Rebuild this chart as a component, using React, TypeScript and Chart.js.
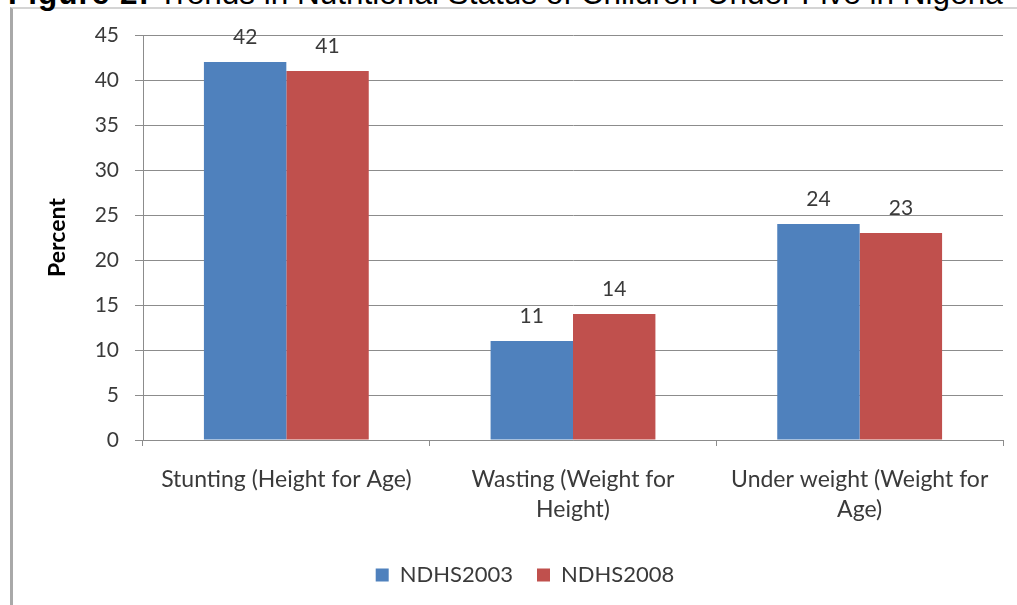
import React, { useEffect, useRef } from "react";
import { Chart, registerables } from "chart.js";

Chart.register(...registerables);

const categories: string[][] = [
  ["Stunting (Height for Age)"],
  ["Wasting (Weight for", "Height)"],
  ["Under weight (Weight for", "Age)"],
];
const ndhs2003: number[] = [42, 11, 24];
const ndhs2008: number[] = [41, 14, 23];
const yTicks = { min: 0, max: 45, step: 5 };

const BLUE = "#4F81BD";
const RED = "#C0504D";
const TEXT = "#3a3a3a";
const GRID = "#8c8c8c";
const FONT = "Lato, 'Open Sans', sans-serif";

// writes each bar's value just above it
const valueLabels = {
  id: "valueLabels",
  afterDatasetsDraw(chart: any) {
    const ctx = chart.ctx;
    ctx.save();
    ctx.font = `21px ${FONT}`;
    ctx.fillStyle = TEXT;
    ctx.textAlign = "center";
    ctx.textBaseline = "middle";
    chart.data.datasets.forEach((ds: any, i: number) => {
      const meta = chart.getDatasetMeta(i);
      meta.data.forEach((bar: any, j: number) => {
        ctx.fillText(String(ds.data[j]), bar.x, bar.y - 25);
      });
    });
    ctx.restore();
  },
};

// centres the legend under the plot area rather than the whole canvas
const legendUnderPlot = {
  id: "legendUnderPlot",
  afterLayout(chart: any) {
    const lg = chart.legend;
    if (!lg) return;
    const area = chart.chartArea;
    const shift = (area.left + area.right) / 2 - (lg.left + lg.right) / 2 - 48;
    lg.left += shift;
    lg.right += shift;
  },
};

export default function App() {
  const canvasRef = useRef<HTMLCanvasElement | null>(null);

  useEffect(() => {
    document.body.style.margin = "0";
    const canvas = canvasRef.current;
    if (!canvas) return;
    const chart = new Chart(canvas, {
      type: "bar",
      data: {
        labels: categories,
        datasets: [
          { label: "NDHS2003", data: ndhs2003, backgroundColor: BLUE, borderWidth: 0 },
          { label: "NDHS2008", data: ndhs2008, backgroundColor: RED, borderWidth: 0 },
        ],
      },
      options: {
        responsive: false,
        animation: false,
        devicePixelRatio: 1,
        layout: { padding: { left: 0, right: 14, top: 35, bottom: 9 } },
        datasets: { bar: { categoryPercentage: 0.575, barPercentage: 1 } },
        plugins: {
          tooltip: { enabled: false },
          title: { display: false },
          legend: {
            position: "bottom",
            labels: {
              boxWidth: 13,
              boxHeight: 13,
              padding: 24,
              color: TEXT,
              font: { family: FONT, size: 22 },
            },
          },
        },
        scales: {
          x: {
            grid: {
              drawOnChartArea: false,
              drawTicks: true,
              tickLength: 6,
              color: GRID,
              offset: true,
            },
            border: { color: GRID, width: 1 },
            ticks: {
              color: TEXT,
              padding: 19,
              maxRotation: 0,
              autoSkip: false,
              font: { family: FONT, size: 23, lineHeight: 1.3 },
            },
            afterFit(scale: any) {
              scale.height = 100;
            },
          },
          y: {
            min: yTicks.min,
            max: yTicks.max,
            ticks: {
              stepSize: yTicks.step,
              color: TEXT,
              padding: 16,
              font: { family: FONT, size: 21 },
            },
            grid: { color: GRID, tickLength: 8, drawTicks: true },
            border: { color: GRID, width: 1 },
            title: {
              display: true,
              text: "Percent",
              color: "#000",
              font: { family: FONT, size: 23, weight: "bold" },
              padding: { top: 44, bottom: 0 },
            },
            afterFit(scale: any) {
              scale.width = 143;
            },
          },
        },
      },
      plugins: [valueLabels, legendUnderPlot],
    } as any);
    return () => chart.destroy();
  }, []);

  return (
    <div style={{ position: "relative", width: 1017, height: 605, overflow: "hidden", background: "#fff" }}>
      <div
        style={{
          position: "absolute",
          left: 10,
          top: 7,
          width: 1017,
          height: 610,
          borderLeft: "3px solid #a9a9a9",
          borderTop: "2px solid #d4d4d4",
          boxSizing: "border-box",
        }}
      />
      <div
        style={{
          position: "absolute",
          left: 8,
          top: -22,
          whiteSpace: "nowrap",
          fontFamily: "'Liberation Sans', Arial, sans-serif",
          fontSize: 31.5,
          lineHeight: "31px",
          color: "#000",
        }}
      >
        <b style={{ letterSpacing: "1px" }}>Figure 2:</b> Trends in Nutritional Status of Children Under Five in Nigeria
      </div>
      <canvas
        ref={canvasRef}
        width={1017}
        height={605}
        style={{ position: "absolute", left: 0, top: 0, width: 1017, height: 605 }}
      />
    </div>
  );
}
